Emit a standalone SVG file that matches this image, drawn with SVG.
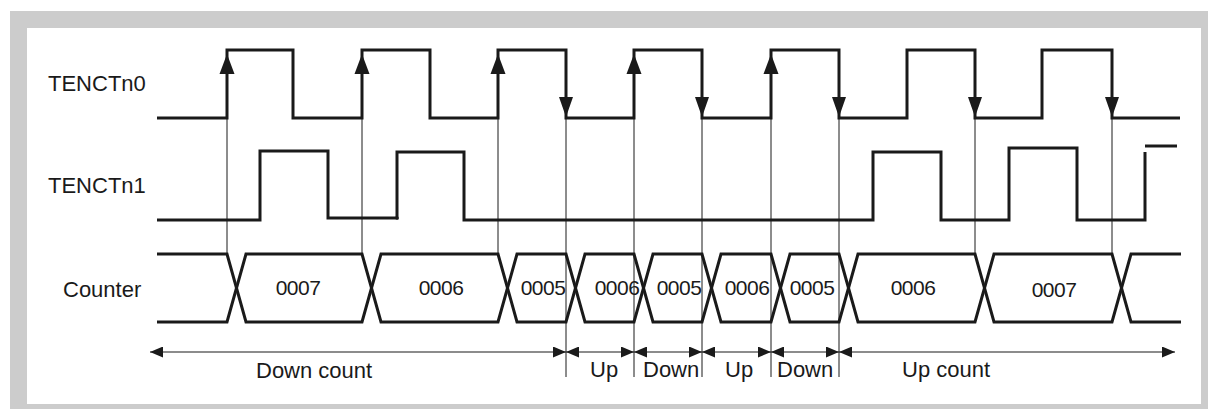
<svg xmlns="http://www.w3.org/2000/svg" width="1208" height="409" viewBox="0 0 1208 409">
<style>
.sig{fill:none;stroke:#1a1a1a;stroke-width:3;stroke-linejoin:miter;stroke-linecap:butt}
.thin{fill:none;stroke:#1a1a1a;stroke-width:1}
.dim{fill:none;stroke:#1a1a1a;stroke-width:1.2;marker-start:url(#ah);marker-end:url(#ah)}
.ah{fill:#1a1a1a}
.lbl{font-family:"Liberation Sans",Arial,Helvetica,sans-serif;font-size:22px;fill:#1a1a1a}
.val{font-family:"Liberation Sans",Arial,Helvetica,sans-serif;font-size:21px;fill:#1a1a1a;text-anchor:middle;letter-spacing:-0.5px}
</style>
<defs>
<marker id="ah" markerUnits="userSpaceOnUse" markerWidth="13" markerHeight="11" viewBox="0 0 13 11" refX="13" refY="5.5" orient="auto-start-reverse">
<path d="M0,0 L13,5.5 L0,11 z" fill="#1a1a1a"/>
</marker>
</defs>
<rect x="10" y="11" width="1198" height="398" fill="#cccccc"/>
<rect x="27" y="28" width="1174" height="376" fill="#ffffff"/>

<g id="connectors">
<path class="thin" d="M227,118 V254 M362,118 V254 M498,118 V254 M975,118 V254 M1112,118 V254"/>
<path class="thin" d="M566,118 V377 M634,118 V377 M702,118 V377 M771,118 V377 M839,118 V377"/>
<path class="dim" d="M150,352 H566"/>
<path class="dim" d="M566,352 H634"/>
<path class="dim" d="M634,352 H702"/>
<path class="dim" d="M702,352 H771"/>
<path class="dim" d="M771,352 H839"/>
<path class="dim" d="M839,352 H1175"/>
</g>

<g id="tenctn0">
<text class="lbl" x="48" y="91">TENCTn0</text>
<path class="sig" d="M157,118 H227 V50 H293 V118 H362 V50 H430 V118 H498 V50 H566 V118 H634 V50 H702 V118 H771 V50 H839 V118 H907 V50 H975 V118 H1042 V50 H1112 V118 H1180"/>
<g class="ah">
<polygon points="227,54 219.5,74 234.5,74"/>
<polygon points="362,54 354.5,74 369.5,74"/>
<polygon points="498,54 490.5,74 505.5,74"/>
<polygon points="634,54 626.5,74 641.5,74"/>
<polygon points="771,54 763.5,74 778.5,74"/>
<polygon points="566,117 559,97 573,97"/>
<polygon points="702,117 695,97 709,97"/>
<polygon points="839,117 832,97 846,97"/>
<polygon points="975,117 968,97 982,97"/>
<polygon points="1112,117 1105,97 1119,97"/>
</g>
</g>

<g id="tenctn1">
<text class="lbl" x="48" y="193">TENCTn1</text>
<path class="sig" d="M157,220 H260 V151 H328 V218 H397 V152 H464 V220 H873 V152 H941 V220 H1009 V148 H1077 V220 H1145 V152"/>
<path class="sig" d="M1145,146 H1177"/>
<circle cx="397" cy="218" r="1.8" fill="#1a1a1a"/>
</g>

<g id="counter">
<text class="lbl" x="63" y="297">Counter</text>
<path class="sig" d="M157,254 H227 L246,322 H362 L381,254 H498 L517,322 H566 L585,254 H634 L653,322 H702 L721,254 H771 L790,322 H839 L858,254 H975 L994,322 H1112 L1131,254 H1181"/>
<path class="sig" d="M157,322 H227 L246,254 H362 L381,322 H498 L517,254 H566 L585,322 H634 L653,254 H702 L721,322 H771 L790,254 H839 L858,322 H975 L994,254 H1112 L1131,322 H1181"/>
<text class="val" x="298" y="295">0007</text>
<text class="val" x="441" y="295">0006</text>
<text class="val" x="543" y="295">0005</text>
<text class="val" x="617" y="295">0006</text>
<text class="val" x="679" y="295">0005</text>
<text class="val" x="747" y="295">0006</text>
<text class="val" x="812" y="295">0005</text>
<text class="val" x="913" y="295">0006</text>
<text class="val" x="1054" y="297">0007</text>
</g>

<g id="labels">
<text class="lbl" x="256" y="378">Down count</text>
<text class="lbl" x="590" y="377">Up</text>
<text class="lbl" x="643" y="377">Down</text>
<text class="lbl" x="725" y="377">Up</text>
<text class="lbl" x="777" y="377">Down</text>
<text class="lbl" x="902" y="377">Up count</text>
</g>
</svg>
